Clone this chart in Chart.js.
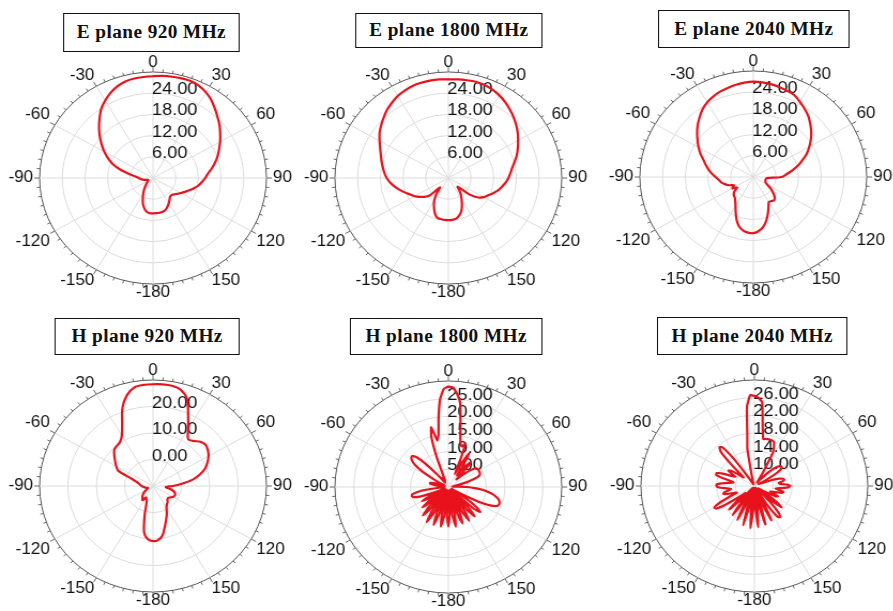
<!DOCTYPE html>
<html>
<head>
<meta charset="utf-8">
<title>E / H plane radiation patterns</title>
<script src="https://cdn.jsdelivr.net/npm/chart.js@4.4.1/dist/chart.umd.min.js"></script>
<style>
  html, body { margin: 0; padding: 0; background: #fff; overflow: hidden; }
  /* the source figure is slightly wider than tall, so the whole stage is stretched */
  #stage { position: relative; width: 835px; height: 611px; transform: scaleX(1.07); transform-origin: 0 0; }
  .ttl { position: absolute; box-sizing: border-box; border: 1px solid #111; background: #fff;
         font: bold 18px "Liberation Serif", "Times New Roman", serif; color: #111;
         text-align: center; letter-spacing: 0.4px; white-space: nowrap; }
  canvas { position: absolute; }
</style>
</head>
<body>
<div id="stage"></div>
<script>
Chart.defaults.font.family = '"Liberation Sans", Arial, sans-serif';

const titles = ['E plane 920 MHz', 'E plane 1800 MHz', 'E plane 2040 MHz',
                'H plane 920 MHz', 'H plane 1800 MHz', 'H plane 2040 MHz'];

// angle categories, clockwise from 0 at the top, written as -180..180
const anglesCoarse = [];
for (let a = 0; a < 360; a += 5) anglesCoarse.push(a < 180 ? a : a - 360);
const anglesFine = [];
for (let a = 0; a < 360; a += 2.5) anglesFine.push(a < 180 ? a : a - 360);

// radial axis: inner value, ring step (outer ring is 30 on all plots)
const ringMin  = [0, 0, 0, -10, 0, 6];
const ringStep = [6, 6, 6, 10, 5, 4];
const ringMax  = 30;

// gain, 0..175 then -180..-5 (5 deg steps)
const ePlane920 = [
  28.8, 29.0, 29.1, 29.2, 29.2, 28.8, 28.0, 26.9, 25.5, 24.2, 23.0, 21.7,
  20.5, 19.3, 18.2, 17.0, 15.8, 14.6, 13.8, 13.0, 12.2, 11.2, 10.2, 9.3,
  8.5, 7.8, 7.2, 6.9, 7.0, 7.6, 8.3, 9.0, 9.6, 9.9, 10.0, 10.0,
  10.0, 10.0, 9.7, 8.9, 7.8, 6.4, 5.2, 4.2, 3.3, 2.6, 2.1, 1.7,
  1.5, 1.4, 1.6, 2.1, 2.7, 3.3, 3.8, 4.6, 6.3, 8.8, 11.2, 13.1,
  14.9, 16.6, 18.4, 20.2, 22.0, 23.9, 25.3, 26.6, 27.6, 28.3, 28.6, 28.7
];
const ePlane1800 = [
  27.9, 28.0, 28.1, 28.2, 28.0, 27.6, 27.0, 26.2, 25.3, 24.4, 23.4, 22.4,
  21.3, 20.3, 19.3, 18.2, 17.2, 16.5, 15.9, 15.2, 14.4, 13.6, 12.6, 11.6,
  10.8, 9.6, 7.2, 3.5, 4.5, 5.8, 7.0, 8.5, 10.0, 11.0, 11.7, 11.9,
  11.9, 11.9, 11.8, 11.6, 10.5, 9.0, 7.5, 5.5, 3.5, 7.0, 8.3, 9.3,
  10.3, 11.1, 12.1, 13.2, 14.3, 15.4, 16.3, 17.0, 17.6, 18.3, 19.0, 19.9,
  21.0, 22.2, 23.2, 24.2, 25.2, 26.0, 26.8, 27.3, 27.7, 27.9, 28.0, 28.0
];
const ePlane2040 = [
  27.0, 26.9, 26.7, 26.4, 26.0, 25.6, 24.6, 23.6, 22.6, 21.3, 20.0, 18.6,
  17.1, 15.6, 13.8, 12.2, 10.4, 8.8, 7.5, 3.6, 3.4, 3.3, 3.4, 3.6,
  4.2, 5.5, 6.8, 8.0, 8.6, 8.3, 8.2, 9.5, 11.2, 13.0, 14.5, 15.4,
  15.9, 15.8, 15.4, 14.5, 12.9, 11.0, 9.4, 8.3, 7.6, 7.3, 6.6, 5.2,
  6.4, 5.6, 6.8, 7.8, 8.6, 9.2, 10.0, 11.0, 12.0, 13.0, 14.0, 15.4,
  16.7, 18.0, 19.4, 20.8, 22.1, 23.4, 24.4, 25.1, 25.7, 26.1, 26.5, 26.8
];
const hPlane920 = [
  28.4, 28.5, 28.4, 27.6, 25.0, 19.3, 14.8, 11.6, 12.2, 13.6, 14.2, 13.6,
  12.6, 11.2, 9.6, 7.2, 4.4, 0.5, -3.0, -5.5, -4.0, -2.5, -1.7, -1.5,
  -1.8, -2.5, -3.0, -2.8, -2.0, -1.5, -0.5, 1.5, 3.5, 6.0, 9.0, 10.5,
  10.8, 10.2, 8.0, 1.5, -3.3, -4.5, -5.0, -3.5, -4.2, -4.8, -5.5, -6.5,
  -7.5, -8.0, -8.0, -7.5, -7.0, -6.5, -6.0, -5.5, -5.0, -4.0, -2.0, 3.5,
  5.0, 6.3, 7.8, 9.3, 9.8, 10.3, 12.0, 15.8, 21.5, 25.5, 27.8, 28.3
];
// 2.5 deg steps, 0..177.5 then -180..-2.5
const hPlane1800 = [
  28.4, 28.2, 26.5, 24.0, 18.5, 14.7, 12.5, 12.0, 13.0, 8.0, 4.0, 8.0,
  11.0, 7.0, 4.0, 7.5, 9.2, 6.0, 3.0, 5.0, 7.0, 8.5, 9.2, 9.3,
  9.3, 9.3, 9.2, 9.0, 8.2, 6.5, 4.5, 2.5, 1.5, 1.0, 1.5, 3.0,
  5.0, 7.0, 9.0, 10.5, 12.0, 13.0, 13.8, 14.2, 14.3, 14.0, 12.5, 9.0,
  4.0, 1.0, 6.0, 9.5, 11.0, 9.0, 1.0, 8.0, 10.9, 8.0, 1.0, 8.0,
  11.0, 8.0, 1.0, 8.0, 11.0, 8.0, 1.0, 8.0, 11.4, 8.0, 1.0, 8.0,
  11.2, 8.0, 1.0, 8.0, 11.4, 8.0, 1.0, 8.0, 11.4, 8.0, 1.0, 8.0,
  11.5, 8.0, 1.0, 7.5, 10.5, 7.5, 1.0, 6.5, 9.0, 6.5, 1.0, 5.5,
  8.0, 5.5, 1.0, 4.0, 8.0, 9.5, 10.0, 9.8, 8.5, 6.0, 2.5, 1.0,
  1.0, 1.0, 1.5, 3.0, 4.5, 5.0, 4.5, 3.0, 1.5, 1.0, 1.5, 3.0,
  5.0, 8.0, 10.5, 12.0, 12.8, 13.0, 12.0, 9.0, 5.0, 2.5, 1.5, 2.0,
  3.0, 3.0, 2.0, 3.5, 9.0, 15.0, 17.5, 13.5, 15.0, 19.8, 25.0, 27.8
];
const hPlane2040 = [
  26.4, 26.0, 25.0, 19.5, 16.8, 16.9, 17.0, 17.0, 17.0, 16.8, 15.8, 14.5,
  10.0, 8.0, 7.0, 7.0, 8.0, 9.5, 11.0, 12.3, 13.0, 13.2, 13.0, 12.0,
  10.0, 8.0, 7.0, 8.0, 10.0, 11.5, 12.3, 12.5, 12.0, 11.2, 11.5, 13.0,
  13.6, 13.2, 11.5, 10.5, 11.5, 12.3, 12.0, 10.5, 9.5, 10.5, 11.5, 11.0,
  8.5, 7.0, 9.0, 12.0, 13.5, 11.0, 7.0, 11.0, 14.2, 14.9, 14.5, 11.0,
  6.5, 10.0, 14.5, 11.0, 6.5, 10.0, 15.0, 11.0, 6.5, 11.0, 15.4, 11.0,
  6.5, 11.0, 15.6, 11.0, 6.5, 10.5, 15.2, 10.5, 6.5, 10.0, 14.5, 10.0,
  6.5, 10.0, 14.0, 10.0, 6.5, 10.0, 13.5, 11.0, 8.5, 10.0, 13.0, 15.5,
  15.8, 14.5, 12.0, 10.0, 10.5, 12.0, 12.8, 12.5, 11.5, 11.0, 12.0, 13.5,
  14.0, 14.0, 13.0, 11.5, 10.5, 11.0, 13.0, 14.5, 14.5, 13.5, 11.5, 10.5,
  11.5, 12.5, 12.0, 10.5, 9.0, 10.0, 13.0, 16.5, 17.5, 17.0, 13.0, 8.0,
  6.8, 6.5, 6.5, 6.5, 6.5, 7.0, 7.5, 9.0, 14.5, 17.5, 24.0, 26.6
];

const series = [ePlane920, ePlane1800, ePlane2040, hPlane920, hPlane1800, hPlane2040];
const seriesAngles = [anglesCoarse, anglesCoarse, anglesCoarse, anglesCoarse, anglesFine, anglesFine];

// layout (unstretched px): plot centres and title boxes
const layout = [
  { cx: 143, cy: 178, box: [59, 13, 165, 39] },
  { cx: 419, cy: 178, box: [332, 13, 175, 35] },
  { cx: 704, cy: 177, box: [615, 10, 179, 38] },
  { cx: 143, cy: 486, box: [51, 318, 173, 37] },
  { cx: 419, cy: 487, box: [327, 318, 180, 37] },
  { cx: 705, cy: 486, box: [614, 317, 178, 38] }
];

const CW = 310, CH = 246;
const RED = '#e8121c';

// ruler ticks on the outer ring + ring value labels next to the 0 deg spoke
const polarDecor = {
  id: 'polarDecor',
  beforeDatasetsDraw(chart) {
    const r = chart.scales.r;
    const ctx = chart.ctx;
    const R = r.getDistanceFromCenterForValue(r.max);
    ctx.save();
    ctx.strokeStyle = '#666';
    ctx.lineWidth = 1;
    for (let a = 0; a < 360; a += 5) {
      const t = a * Math.PI / 180;
      const len = a % 30 === 0 ? 5 : 3;
      const sx = Math.sin(t), sy = -Math.cos(t);
      ctx.beginPath();
      ctx.moveTo(r.xCenter + sx * R, r.yCenter + sy * R);
      ctx.lineTo(r.xCenter + sx * (R + len), r.yCenter + sy * (R + len));
      ctx.stroke();
    }
    ctx.font = '17px "Liberation Sans", Arial, sans-serif';
    ctx.fillStyle = '#111';
    ctx.textAlign = 'left';
    ctx.textBaseline = 'alphabetic';
    r.ticks.forEach(t => {
      if (t.value <= r.min || t.value >= r.max) return;
      const d = r.getDistanceFromCenterForValue(t.value);
      ctx.fillText(t.value.toFixed(2), r.xCenter - 1, r.yCenter - d + 1);
    });
    ctx.restore();
  }
};

const stage = document.getElementById('stage');

function makePanel(i) {
  const L = layout[i];
  const t = document.createElement('div');
  t.className = 'ttl';
  t.textContent = titles[i];
  t.style.left = L.box[0] + 'px';
  t.style.top = L.box[1] + 'px';
  t.style.width = L.box[2] + 'px';
  t.style.height = L.box[3] + 'px';
  t.style.lineHeight = (L.box[3] - 2) + 'px';
  stage.appendChild(t);

  const cv = document.createElement('canvas');
  cv.width = CW; cv.height = CH;
  cv.style.left = (L.cx - CW / 2) + 'px';
  cv.style.top = (L.cy - CH / 2) + 'px';
  stage.appendChild(cv);

  new Chart(cv, {
    type: 'radar',
    data: {
      labels: seriesAngles[i],
      datasets: [{
        data: series[i],
        borderColor: RED,
        borderWidth: 2.2,
        pointRadius: 0,
        fill: false,
        tension: seriesAngles[i] === anglesFine ? 0.12 : 0.3
      }]
    },
    options: {
      responsive: false,
      animation: false,
      devicePixelRatio: 1,
      layout: { padding: 0 },
      plugins: { legend: { display: false }, tooltip: { enabled: false } },
      scales: {
        r: {
          min: ringMin[i],
          max: ringMax,
          ticks: { display: false, stepSize: ringStep[i] },
          grid: {
            circular: true,
            lineWidth: 1,
            color: c => (c.tick && c.tick.value === ringMax ? '#555' : '#dcdcdc')
          },
          angleLines: {
            lineWidth: 1,
            color: c => (c.label !== '' ? '#dcdcdc' : 'rgba(0,0,0,0)')
          },
          pointLabels: {
            color: '#111',
            font: { size: 16, lineHeight: 1 },
            padding: c => (c.label === '' ? 1 : 1 + 5 * Math.abs(Math.sin(Number(c.label) * Math.PI / 180))),
            callback: l => (l % 30 === 0 ? String(l) : '')
          }
        }
      }
    },
    plugins: [polarDecor]
  });
}

for (let i = 0; i < 6; i++) makePanel(i);
</script>
</body>
</html>
